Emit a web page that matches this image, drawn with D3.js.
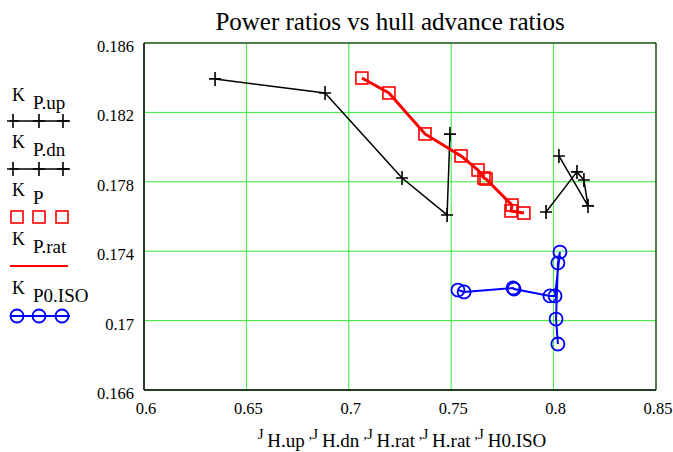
<!DOCTYPE html>
<html><head><meta charset="utf-8">
<script src="https://cdn.jsdelivr.net/npm/d3@7"></script>
<style>body{margin:0;background:#fff}svg{display:block}svg text{font-family:"Times New Roman",Times,"Liberation Serif",serif}</style>
</head><body>
<script>
// Data
const upJ = [0.6347, 0.6884, 0.7260, 0.7480, 0.7494];
const upK = [0.18393, 0.18312, 0.17822, 0.17609, 0.18075];
const dnJ = [0.7963, 0.8114, 0.8148, 0.8168, 0.8026];
const dnK = [0.17626, 0.17857, 0.17810, 0.17661, 0.17949];
const ratJ = [0.7064, 0.7196, 0.7372, 0.7548, 0.7631, 0.7660, 0.7670, 0.7797, 0.7792, 0.7855];
const ratK = [0.18398, 0.18312, 0.18076, 0.17949, 0.17868, 0.17822, 0.17816, 0.17666, 0.17632, 0.17620];
const isoJ = [0.7533, 0.7563, 0.7802, 0.7807, 0.7982, 0.8007, 0.8031, 0.8021, 0.8012, 0.8021];
const isoK = [0.17176, 0.17165, 0.17188, 0.17182, 0.17142, 0.17142, 0.17395, 0.17332, 0.17009, 0.16865];
const xTicks = [0.6, 0.65, 0.7, 0.75, 0.8, 0.85];
const xTickLabels = ["0.6", "0.65", "0.7", "0.75", "0.8", "0.85"];
const yTicks = [0.166, 0.17, 0.174, 0.178, 0.182, 0.186];
const yTickLabels = ["0.166", "0.17", "0.174", "0.178", "0.182", "0.186"];
const title = "Power ratios vs hull advance ratios";
const legendSubs = ["P.up", "P.dn", "P", "P.rat", "P0.ISO"];
const xTitleSubs = ["H.up", "H.dn", "H.rat", "H.rat", "H0.ISO"];

const W = 673, H = 452;
const svg = d3.select("body").append("svg").attr("width", W).attr("height", H);
const x = d3.scaleLinear().domain([0.6, 0.85]).range([144, 656]);
const y = d3.scaleLinear().domain([0.166, 0.186]).range([390, 43]);

const zip = (a, b) => a.map((v, i) => [v, b[i]]);
const line = d3.line().x(d => x(d[0])).y(d => y(d[1]));

// grid
const g = svg.append("g");
g.selectAll(".gx").data(xTicks).enter().append("line")
  .attr("x1", d => x(d)).attr("x2", d => x(d)).attr("y1", y(0.166)).attr("y2", y(0.186))
  .attr("stroke", "#33ee33").attr("stroke-width", 1);
g.selectAll(".gy").data(yTicks).enter().append("line")
  .attr("y1", d => y(d)).attr("y2", d => y(d)).attr("x1", x(0.6)).attr("x2", x(0.85))
  .attr("stroke", "#33ee33").attr("stroke-width", 1);
// frame
svg.append("line").attr("x1", x(0.6)).attr("x2", x(0.6)).attr("y1", y(0.186)).attr("y2", y(0.166)).attr("stroke", "#000").attr("stroke-width", 1.5);
svg.append("line").attr("x1", x(0.6)).attr("x2", x(0.85)).attr("y1", y(0.166)).attr("y2", y(0.166)).attr("stroke", "#000").attr("stroke-width", 1.5);
svg.append("line").attr("x1", x(0.6)).attr("x2", x(0.85)).attr("y1", y(0.186)).attr("y2", y(0.186)).attr("stroke", "#000").attr("stroke-width", 1);
svg.append("line").attr("x1", x(0.85)).attr("x2", x(0.85)).attr("y1", y(0.186)).attr("y2", y(0.166)).attr("stroke", "#000").attr("stroke-width", 1);

// tick labels
svg.selectAll(".xl").data(xTicks).enter().append("text")
  .attr("x", d => x(d) + 2).attr("y", 414).attr("text-anchor", "middle").attr("font-size", 16.5)
  .text((d, i) => xTickLabels[i]);
svg.selectAll(".yl").data(yTicks).enter().append("text")
  .attr("x", 134).attr("y", d => y(d) + 9).attr("text-anchor", "end").attr("font-size", 16.5)
  .text((d, i) => yTickLabels[i]);

// title
svg.append("text").attr("x", 390).attr("y", 30).attr("text-anchor", "middle").attr("font-size", 25).text(title);

// x axis title
const xt = svg.append("text").attr("x", 402).attr("y", 447).attr("text-anchor", "middle");
xTitleSubs.forEach((s, i) => {
  xt.append("tspan").attr("dy", -8).attr("font-size", 15).text((i === 0 ? "" : " ,") + "J ");
  xt.append("tspan").attr("dy", 8).attr("font-size", 19).text(s);
});

function plus(sel, pts) {
  sel.selectAll(null).data(pts).enter().append("path")
    .attr("d", d => `M${x(d[0]) - 6},${y(d[1])}h12M${x(d[0])},${y(d[1]) - 7}v14`)
    .attr("stroke", "#000").attr("stroke-width", 1.6).attr("fill", "none");
}

// series
const plot = svg.append("g");
plot.append("path").datum(zip(upJ, upK)).attr("d", line).attr("fill", "none").attr("stroke", "#000").attr("stroke-width", 1.5);
plus(plot, zip(upJ, upK));
plot.append("path").datum(zip(dnJ, dnK)).attr("d", line).attr("fill", "none").attr("stroke", "#000").attr("stroke-width", 1.5);
plus(plot, zip(dnJ, dnK));
plot.append("path").datum(zip(ratJ, ratK)).attr("d", line).attr("fill", "none").attr("stroke", "#ff0000").attr("stroke-width", 3);
plot.selectAll(null).data(zip(ratJ, ratK)).enter().append("rect")
  .attr("x", d => x(d[0]) - 6).attr("y", d => y(d[1]) - 6).attr("width", 12).attr("height", 12)
  .attr("fill", "none").attr("stroke", "#ff0000").attr("stroke-width", 1.6);
plot.append("path").datum(zip(isoJ, isoK)).attr("d", line).attr("fill", "none").attr("stroke", "#0000ff").attr("stroke-width", 2);
plot.selectAll(null).data(zip(isoJ, isoK)).enter().append("circle")
  .attr("cx", d => x(d[0])).attr("cy", d => y(d[1])).attr("r", 6.5)
  .attr("fill", "none").attr("stroke", "#0000ff").attr("stroke-width", 1.8);

// legend
const lg = svg.append("g");
const legY = [95, 142, 190, 239, 288];
const sampY = [121, 169, 217, 266, 316];
const mx = [13, 39, 63];
legendSubs.forEach((s, i) => {
  lg.append("text").attr("x", 12).attr("y", legY[i] + 6).attr("font-size", 18).text("K");
  lg.append("text").attr("x", 33).attr("y", legY[i] + 14).attr("font-size", 19).text(s);
  const yy = sampY[i];
  if (i === 0 || i === 1) {
    lg.append("line").attr("x1", 10).attr("x2", 70).attr("y1", yy).attr("y2", yy).attr("stroke", "#000").attr("stroke-width", 1.5);
    mx.forEach(m => lg.append("path").attr("d", `M${m - 6},${yy}h12M${m},${yy - 7}v14`).attr("stroke", "#000").attr("stroke-width", 1.6));
  } else if (i === 2) {
    [17, 39, 62].forEach(m => lg.append("rect").attr("x", m - 6).attr("y", yy - 6).attr("width", 12).attr("height", 12)
      .attr("fill", "none").attr("stroke", "#ff0000").attr("stroke-width", 1.6));
  } else if (i === 3) {
    lg.append("line").attr("x1", 10).attr("x2", 68).attr("y1", yy).attr("y2", yy).attr("stroke", "#ff0000").attr("stroke-width", 2);
  } else {
    lg.append("line").attr("x1", 10).attr("x2", 70).attr("y1", yy).attr("y2", yy).attr("stroke", "#0000ff").attr("stroke-width", 2);
    [17, 39, 62].forEach(m => lg.append("circle").attr("cx", m).attr("cy", yy).attr("r", 6.5)
      .attr("fill", "none").attr("stroke", "#0000ff").attr("stroke-width", 1.8));
  }
});
</script>
</body></html>
